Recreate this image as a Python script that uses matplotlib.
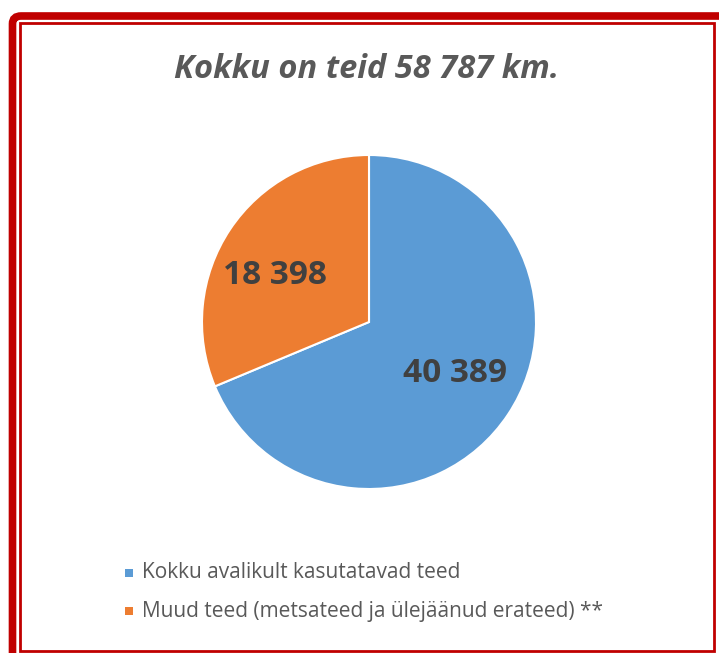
import matplotlib.pyplot as plt
from matplotlib.patches import FancyBboxPatch, Rectangle

title = 'Kokku on teid 58 787 km.'
labels = ['Kokku avalikult kasutatavad teed',
          'Muud teed (metsateed ja ülejäänud erateed) **']
values = [40389, 18398]
value_text = ['40 389', '18 398']
colors = ['#5B9BD5', '#ED7D31']

W, H = 719, 653
fig = plt.figure(figsize=(W / 100, H / 100), dpi=100)
plt.rcParams['font.family'] = ['Open Sans', 'DejaVu Sans']

# red frames (pixel coords -> figure fraction)
def fx(x): return x / W
def fy(y): return 1 - y / H

outer = FancyBboxPatch((fx(12.5), fy(700)), fx(760) - fx(12.5), fy(16) - fy(700),
                       boxstyle='round,pad=0,rounding_size=0.012',
                       transform=fig.transFigure, fill=False,
                       edgecolor='#C00000', linewidth=5.5, zorder=1)
fig.patches.append(outer)
inner = Rectangle((fx(20), fy(651)), fx(714) - fx(20), fy(22.5) - fy(651),
                  transform=fig.transFigure, fill=False,
                  edgecolor='#C00000', linewidth=2, zorder=1)
fig.patches.append(inner)

# pie
r = 167
cx, cy = 369, 322
ax = fig.add_axes([fx(cx - r), fy(cy + r), 2 * r / W, 2 * r / H])
wedges, _ = ax.pie(values, colors=colors, startangle=90, counterclock=False,
                   wedgeprops=dict(edgecolor='white', linewidth=1.5))
ax.set_xlim(-1, 1)
ax.set_ylim(-1, 1)
ax.set_aspect('auto')

fig.text(fx(455), fy(374), value_text[0], ha='center', va='center',
         fontsize=24, fontweight='bold', color='#404040')
fig.text(fx(275), fy(276), value_text[1], ha='center', va='center',
         fontsize=24, fontweight='bold', color='#404040')

fig.text(fx(366), fy(70), title, ha='center', va='center', fontsize=23.5,
         fontweight='bold', fontstyle='italic', color='#595959')

# legend
for i, (lab, c) in enumerate(zip(labels, colors)):
    y = 573 + i * 38
    fig.patches.append(Rectangle((fx(125), fy(y + 4)), 8 / W, 8 / H,
                                 transform=fig.transFigure, facecolor=c,
                                 edgecolor='none'))
    fig.text(fx(142), fy(y), lab, ha='left', va='center', fontsize=15,
             color='#595959')

fig.savefig('out.png', dpi=100)
